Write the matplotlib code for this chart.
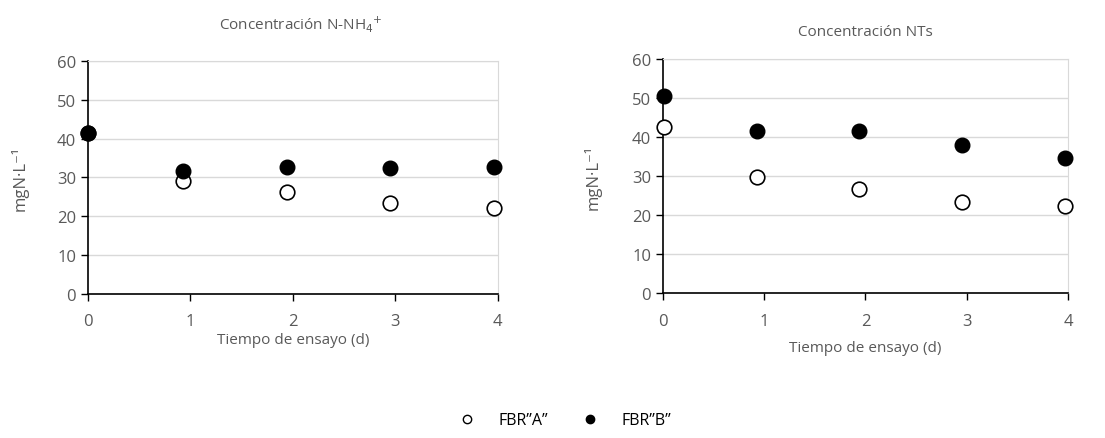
import matplotlib.pyplot as plt
from matplotlib.lines import Line2D

plt.rcParams['font.family'] = ['Open Sans', 'DejaVu Sans']

# sampling days (as plotted, slightly offset from whole days)
dias_nh4 = [0.0, 0.93, 1.94, 2.95, 3.96]
dias_nt = [0.01, 0.93, 1.94, 2.95, 3.97]

# N-NH4+ concentration (mgN/L)
nh4_a = [41.5, 29.0, 26.2, 23.3, 22.2]
nh4_b = [41.5, 31.6, 32.6, 32.4, 32.6]

# total N concentration (mgN/L)
nt_a = [42.7, 29.7, 26.7, 23.4, 22.4]
nt_b = [50.6, 41.5, 41.5, 38.0, 34.6]

yticks = [0, 10, 20, 30, 40, 50, 60]
xticks = [0, 1, 2, 3, 4]

txt = '#595959'
grid = '#d9d9d9'

fig = plt.figure(figsize=(11.05, 4.39), dpi=100)
ax1 = fig.add_axes([0.0796, 0.328, 0.371, 0.531])
ax2 = fig.add_axes([0.600, 0.3296, 0.3665, 0.5337])


def style_axes(ax, ypad):
    ax.set_xlim(0, 4)
    ax.set_ylim(0, 60)
    ax.set_xticks(xticks)
    ax.set_yticks(yticks)
    ax.grid(axis='y', color=grid, lw=1)
    ax.set_axisbelow(True)
    for s in ['top', 'right']:
        ax.spines[s].set_color(grid)
    for s in ['left', 'bottom']:
        ax.spines[s].set_color('#000000')
        ax.spines[s].set_linewidth(1.2)
    ax.tick_params(axis='both', colors='#000000', labelcolor=txt,
                   labelsize=12, length=5, width=1)
    ax.tick_params(axis='x', pad=9)
    ax.set_ylabel('mgN·L⁻¹', color=txt, fontsize=12, labelpad=ypad)


def puntos(ax, x, a, b):
    ax.plot(x, a, 'o', ms=10.5, mfc='white', mec='black', mew=1.2,
            clip_on=False, zorder=3)
    ax.plot(x, b, 'o', ms=10.5, mfc='black', mec='black',
            clip_on=False, zorder=4)


puntos(ax1, dias_nh4, nh4_a, nh4_b)
style_axes(ax1, 20)
ax1.set_xlabel('Tiempo de ensayo (d)', color=txt, fontsize=11, labelpad=2)
fig.text(0.272, 0.945, 'Concentración N-NH$_4$$^{+}$', ha='center',
         va='center', color=txt, fontsize=11)

puntos(ax2, dias_nt, nt_a, nt_b)
style_axes(ax2, 22)
ax2.set_xlabel('Tiempo de ensayo (d)', color=txt, fontsize=11, labelpad=8)
fig.text(0.783, 0.927, 'Concentración NTs', ha='center', va='center',
         color=txt, fontsize=11)

handles = [
    Line2D([], [], ls='none', marker='o', ms=6, mfc='white', mec='black'),
    Line2D([], [], ls='none', marker='o', ms=6, mfc='black', mec='black'),
]
fig.legend(handles, ['FBR”A”', 'FBR”B”'], loc='center',
           bbox_to_anchor=(0.508, 0.04), ncol=2, frameon=False,
           fontsize=11.5, labelcolor='#000000', handletextpad=1.0,
           columnspacing=1.6)

fig.savefig('out.png', dpi=100)
